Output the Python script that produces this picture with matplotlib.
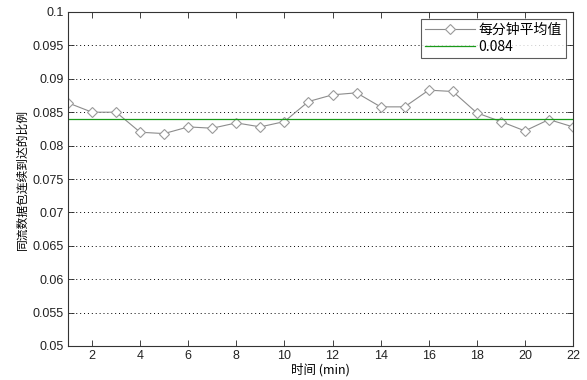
import matplotlib
matplotlib.use("Agg")
import matplotlib.pyplot as plt
import numpy as np

plt.rcParams['font.family'] = ['Liberation Sans', 'Noto Sans CJK SC', 'DejaVu Sans']

minutes = list(range(1, 23))
avg_ratio = [0.0864, 0.0850, 0.0850, 0.0820, 0.0818, 0.0828, 0.0826, 0.0834, 0.0828, 0.0836,
             0.0866, 0.0876, 0.0879, 0.0858, 0.0858, 0.0883, 0.0881, 0.0849, 0.0836, 0.0822,
             0.0839, 0.0828]
mean_value = 0.084
series_label = '每分钟平均值'
mean_label = '0.084'
xlabel = '时间 (min)'
ylabel = '同流数据包连续到达的比例'
xticks = list(range(2, 23, 2))
yticks = [0.05, 0.055, 0.06, 0.065, 0.07, 0.075, 0.08, 0.085, 0.09, 0.095, 0.1]
ytick_labels = ['0.05', '0.055', '0.06', '0.065', '0.07', '0.075', '0.08', '0.085', '0.09', '0.095', '0.1']

fig = plt.figure(figsize=(5.87, 3.8), dpi=100)
ax = fig.add_axes([68/587, 1 - 346/380, (573-68)/587, (346-12)/380])

ax.plot(minutes, avg_ratio, color='#8c8c8c', lw=0.8, marker='D', markersize=5.5,
        markerfacecolor='white', markeredgecolor='#9a9a9a', markeredgewidth=0.8,
        label=series_label)
ax.plot([minutes[0], minutes[-1]], [mean_value, mean_value], color='#1a9a1a', lw=0.9,
        label=mean_label)

ax.set_xlim(1, 22)
ax.set_ylim(0.05, 0.1)
ax.set_xticks(xticks)
ax.set_yticks(yticks)
ax.set_yticklabels(ytick_labels)
ax.yaxis.grid(True, linestyle=(0, (1, 3)), color='black', lw=0.7)
ax.tick_params(direction='in', top=True, right=True, labelsize=9, length=4, width=0.6,
               colors='#222222', pad=3)
for s in ax.spines.values():
    s.set_color('#333333')
    s.set_linewidth(0.8)

ax.set_xlabel(xlabel, fontsize=9, labelpad=1,
              family=['Noto Sans CJK SC', 'DejaVu Sans'])
ax.set_ylabel(ylabel, fontsize=8.5, labelpad=3,
              family=['Noto Sans CJK SC', 'DejaVu Sans'])

leg = ax.legend(loc='upper right', frameon=True, fancybox=False,
                edgecolor='#333333', borderaxespad=0.5, handlelength=3.6,
                handletextpad=0.25, borderpad=0.3, labelspacing=0.2,
                prop={'family': ['Noto Sans CJK SC', 'DejaVu Sans'], 'size': 10})
leg.get_frame().set_linewidth(0.8)

fig.savefig('out.png', dpi=100)
